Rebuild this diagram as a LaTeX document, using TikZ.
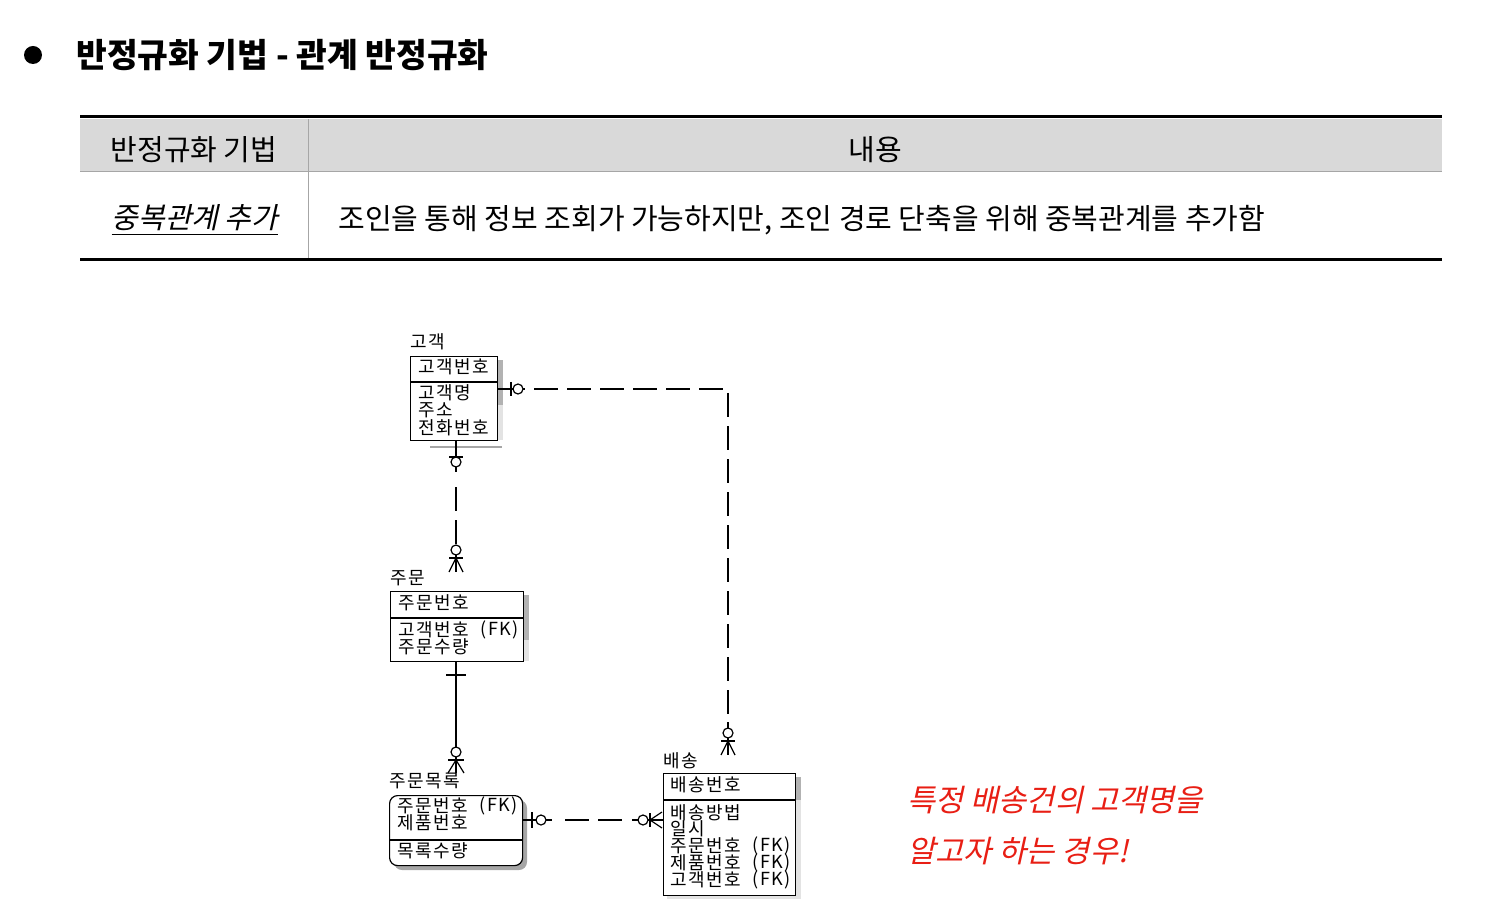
\documentclass[tikz,border=0pt]{standalone}
\usepackage{fontspec}
\setmainfont{Noto Sans CJK KR}
\newfontfamily\krit[FakeSlant=0.22]{Noto Sans CJK KR}
\newfontfamily\erfont[LetterSpace=9]{Noto Sans CJK KR}
\definecolor{hdr}{RGB}{217,217,217}
\definecolor{redtxt}{RGB}{232,30,20}
\begin{document}
\begin{tikzpicture}[x=0.5pt,y=-0.5pt,
  ebox/.style={draw, line width=0.6pt, fill=white, inner sep=0pt, anchor=north west},
  attr/.style={anchor=west, inner sep=0pt, font=\erfont\fontsize{9}{9}\selectfont},
  rel/.style={line width=0.6pt},
  reldash/.style={line width=0.6pt, dash pattern=on 12pt off 4.5pt},
  oc/.style={line width=0.6pt, fill=white},
  shadowd/.style={fill=gray!60},
  shadowl/.style={fill=gray!22},
  tabtxt/.style={inner sep=0pt, font=\fontsize{14.5}{16}\selectfont},
  redline/.style={anchor=west, inner sep=0pt, text=redtxt, font=\krit\fontsize{15.3}{17}\selectfont},
]
\useasboundingbox (0,0) rectangle (1498,903);

% title
\fill (33,55) circle (9);
\node[anchor=west, inner sep=0pt, font=\fontsize{16.7}{20}\selectfont\bfseries] (title) at (76,55) {반정규화 기법 - 관계 반정규화};

% table
\fill[hdr] (80,119) rectangle (1442,172);
\draw[line width=1.5pt] (80,117) -- (1442,117);
\draw[gray!70, line width=0.5pt] (80,172) -- (1442,172);
\draw[gray!70, line width=0.5pt] (308,119) -- (308,259);
\draw[line width=1.5pt] (80,260) -- (1442,260);
\node[tabtxt] (h1) at (194,150) {반정규화 기법};
\node[tabtxt] (h2) at (875,150) {내용};
\node[tabtxt, font=\krit\fontsize{14.5}{16}\selectfont] (r1) at (195,220) {\underline{중복관계 추가}};
\node[tabtxt, anchor=west] (r2) at (338,220) {조인을 통해 정보 조회가 가능하지만, 조인 경로 단축을 위해 중복관계를 추가함};

% shadows
\fill[shadowd] (497,360) rectangle (503,405);
\fill[shadowl] (497,405) rectangle (503,440);
\draw[gray!70, line width=0.8pt] (430,447) -- (502,447);
\fill[shadowd] (523,595) rectangle (529,640);
\fill[shadowl] (523,640) rectangle (529,661);
\fill[gray!70, rounded corners=4pt] (394,800) rectangle (527,870);
\fill[shadowd] (795,777) rectangle (801,800);
\fill[shadowl] (795,800) rectangle (801,899);
\fill[shadowl] (667,895) rectangle (801,899);

% entities
\node[ebox, minimum width=43.5pt, minimum height=42pt] (cust) at (410,356) {};
\node[ebox, minimum width=66.5pt, minimum height=35pt] (ord) at (390,591) {};
\node[ebox, minimum width=66.5pt, minimum height=35pt, rounded corners=4pt] (item) at (389,795) {};
\node[ebox, minimum width=66pt, minimum height=61pt] (ship) at (663,773) {};

\draw[line width=0.6pt] (cust.west |- 0,382) -- (cust.east |- 0,382);
\draw[line width=0.6pt] (ord.west |- 0,618) -- (ord.east |- 0,618);
\draw[line width=0.6pt] (item.west |- 0,840) -- (item.east |- 0,840);
\draw[line width=0.6pt] (ship.west |- 0,800) -- (ship.east |- 0,800);

% entity labels
\node[attr] (lcust) at (410,342) {고객};
\node[attr] (lord) at (390,578) {주문};
\node[attr] (litem) at (389,781) {주문목록};
\node[attr] (lship) at (663,761) {배송};

% attributes
\node[attr] (a1) at (418,367) {고객번호};
\node[attr] (a2) at (418,393) {고객명};
\node[attr] (a3) at (418,410) {주소};
\node[attr] (a4) at (418,428) {전화번호};

\node[attr] (b1) at (398,603) {주문번호};
\node[attr] (b2) at (398,630) {고객번호};
\node[attr] (b2f) at (480,630) {(FK)};
\node[attr] (b3) at (398,647) {주문수량};

\node[attr] (c1) at (397,806) {주문번호};
\node[attr] (c1f) at (479,806) {(FK)};
\node[attr] (c2) at (397,823) {제품번호};
\node[attr] (c3) at (397,851) {목록수량};

\node[attr] (d1) at (670,785) {배송번호};
\node[attr] (d2) at (670,813) {배송방법};
\node[attr] (d3) at (670,829) {일시};
\node[attr] (d4) at (670,846) {주문번호};
\node[attr] (d4f) at (752,846) {(FK)};
\node[attr] (d5) at (670,863) {제품번호};
\node[attr] (d5f) at (752,863) {(FK)};
\node[attr] (d6) at (670,880) {고객번호};
\node[attr] (d6f) at (752,880) {(FK)};

% connector end coordinates
\coordinate (ordtop) at (456,572);
\coordinate (itemtop) at (456,773);
\coordinate (shiptop) at (728,755);
\coordinate (bend) at (728,389);

% customer -> order (dashed)
\draw[rel] (cust.south -| 456,0) -- (456,472);
\draw[reldash] (456,487) -- (456,545);
\draw[rel] (456,545) -- (ordtop);
\draw[rel] (449,457) -- (463,457);
\draw[oc] (456,462) circle (5);
\draw[oc] (456,550) circle (5);
\draw[rel] (449,558) -- (463,558);
\draw[rel] (456,558) -- (449,572) (456,558) -- (463,572);

% order -> item (solid)
\draw[rel] (ord.south -| 456,0) -- (itemtop);
\draw[rel] (446,675) -- (466,675);
\draw[oc] (456,752) circle (5);
\draw[rel] (448,760) -- (464,760);
\draw[rel] (456,760) -- (448,773) (456,760) -- (464,773);

% item -> ship (dashed)
\draw[rel] (item.east |- 0,820) -- (552,820);
\draw[reldash] (565,820) -- (627,820);
\draw[rel] (632,820) -- (ship.west |- 0,820);
\draw[rel] (532,812) -- (532,828);
\draw[oc] (541,820) circle (5);
\draw[oc] (643,820) circle (5);
\draw[rel] (650,813) -- (650,827);
\draw[rel] (650,820) -- (662,812) (650,820) -- (662,828);

% customer -> ship (dashed)
\draw[rel] (cust.east |- 0,389) -- (525,389);
\draw[reldash] (534,389) -- (bend) -- (728,722);
\draw[rel] (728,722) -- (shiptop);
\draw[rel] (511,382) -- (511,396);
\draw[oc] (518,389) circle (5);
\draw[oc] (728,733) circle (5);
\draw[rel] (721,741) -- (735,741);
\draw[rel] (728,741) -- (721,755) (728,741) -- (735,755);

% note
\node[redline] (n1) at (907,800) {특정 배송건의 고객명을};
\node[redline] (n2) at (907,851) {알고자 하는 경우!};
\end{tikzpicture}
\end{document}
